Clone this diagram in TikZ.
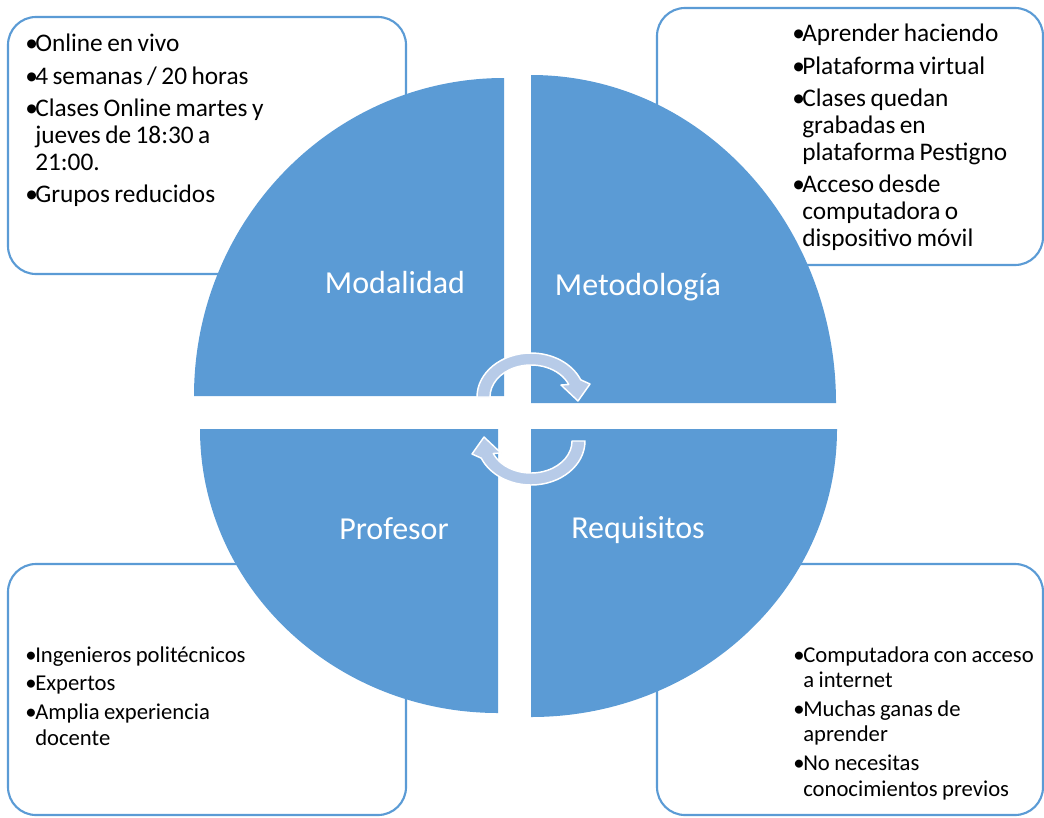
\documentclass[tikz,border=0pt]{standalone}
\usepackage{fontspec}
\setmainfont{Carlito}
\usetikzlibrary{calc}
\definecolor{quadblue}{HTML}{5B9BD5}
\definecolor{cycblue}{RGB}{183,203,232}
\newlength{\bulw}
\setlength{\bulw}{7.5pt}
\newlength{\pgap}
\setlength{\pgap}{3.75pt}
\newcommand{\bul}{\makebox[\bulw][l]{\textbullet}}
\newcommand{\cont}{\hspace*{\bulw}}
\newcommand{\bigtxt}{\fontsize{19}{20.3}\selectfont}
\newcommand{\smalltxt}{\fontsize{17}{19.1}\selectfont}

\begin{document}
\begin{tikzpicture}[x=0.75pt, y=-0.75pt, line join=round]
    \tikzset{
        infobox/.style={draw=quadblue, line width=1.6pt, rounded corners=21pt},
        quad/.style={fill=quadblue},
        quadlabel/.style={text=white, inner sep=0pt, font=\fontsize{24}{28}\selectfont},
        cyc/.style={fill=cycblue, draw=white, line width=1.1pt},
        bullets/.style={anchor=base west, inner sep=0pt, text width=250pt, align=left}
    }
    \useasboundingbox (0,0) rectangle (1044,817);

    % boxes behind the circle
    \draw[infobox] (8,17) rectangle (406,274);
    \draw[infobox] (657,8) rectangle (1043,265);
    \draw[infobox] (8,564) rectangle (406,815);
    \draw[infobox] (657,564) rectangle (1043,815);

    % four quarters
    \coordinate (TL) at (504,396);
    \coordinate (TR) at (531,403);
    \coordinate (BR) at (531,429);
    \coordinate (BL) at (498,429);
    \fill[quad] (TL) -- ++(-310,0) arc[start angle=180, end angle=270, x radius=310, y radius=318] -- cycle;
    \fill[quad] (TR) -- ++(0,-328) arc[start angle=270, end angle=360, x radius=305, y radius=328] -- cycle;
    \fill[quad] (BR) -- ++(306,0) arc[start angle=0, end angle=90, x radius=306, y radius=288] -- cycle;
    \fill[quad] (BL) -- ++(0,284) arc[start angle=90, end angle=180, x radius=298, y radius=284] -- cycle;

    % cycle arrows
    \coordinate (CT) at (531,397);
    \coordinate (CB) at (531,441);
    \filldraw[cyc] ($(CT)+(180:54 and 44)$) arc[start angle=180, end angle=337, x radius=54, y radius=44]
        -- (590,384) -- (578,401) -- (561,385)
        -- ($(CT)+(337:41 and 32)$) arc[start angle=337, end angle=180, x radius=41, y radius=32] -- cycle;
    \filldraw[cyc] ($(CB)+(0:54 and 44)$) arc[start angle=0, end angle=157, x radius=54, y radius=44]
        -- (472,454) -- (484,437) -- (501,453)
        -- ($(CB)+(157:41 and 32)$) arc[start angle=157, end angle=0, x radius=41, y radius=32] -- cycle;

    \node[quadlabel] (modalidad) at (395,283) {Modalidad};
    \node[quadlabel] (metodologia) at (638,287) {Metodología};
    \node[quadlabel] (profesor) at (394,529) {Profesor};
    \node[quadlabel] (requisitos) at (638,530) {Requisitos};

    \node[bullets] (modtext) at (25,52) {\bigtxt
        \bul Online en vivo\\[\pgap]
        \bul 4 semanas / 20 horas\\[\pgap]
        \bul Clases Online martes y\\ \cont jueves de 18:30 a\\ \cont 21:00.\\[\pgap]
        \bul Grupos reducidos\par};
    \node[bullets] (metotext) at (792,42) {\bigtxt
        \bul Aprender haciendo\\[\pgap]
        \bul Plataforma virtual\\[\pgap]
        \bul Clases quedan\\ \cont grabadas en\\ \cont plataforma Pestigno\\[\pgap]
        \bul Acceso desde\\ \cont computadora o\\ \cont dispositivo móvil\par};
    \node[bullets] (proftext) at (25,662) {\smalltxt
        \bul Ingenieros politécnicos\\[2.6pt]
        \bul Expertos\\[2.6pt]
        \bul Amplia experiencia\\ \cont docente\par};
    \node[bullets] (reqtext) at (793,662) {\smalltxt
        \bul Computadora con acceso\\ \cont a internet\\[2.6pt]
        \bul Muchas ganas de\\ \cont aprender\\[2.6pt]
        \bul No necesitas\\ \cont conocimientos previos\par};
\end{tikzpicture}
\end{document}
